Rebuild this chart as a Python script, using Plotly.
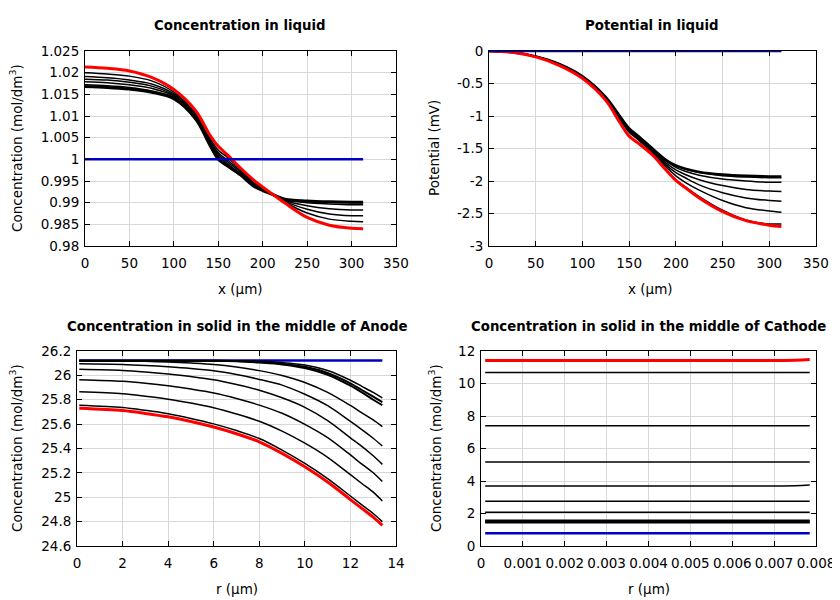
import plotly.graph_objects as go

# ---------------- data ----------------
# Concentration in liquid (top-left)
X_LIQ = [0, 25, 50, 75, 100, 125, 140, 150, 160, 175, 190, 200, 210, 225, 250, 275, 300, 313]
LIQ_INIT = [1.0, 1.0, 1.0, 1.0, 1.0, 1.0, 1.0, 1.0, 1.0, 1.0, 1.0, 1.0, 1.0, 1.0, 1.0, 1.0, 1.0, 1.0]
LIQ_C0 = [1.0168, 1.0166, 1.0162, 1.0155, 1.0140, 1.0092, 1.0035, 1.0000, 0.9985, 0.9964, 0.9938, 0.9928, 0.9920, 0.9908, 0.9904, 0.9902, 0.9901, 0.9901]
LIQ_C1 = [1.0172, 1.0170, 1.0166, 1.0158, 1.0143, 1.0094, 1.0037, 1.0003, 0.9987, 0.9964, 0.9938, 0.9928, 0.9920, 0.9908, 0.9903, 0.9901, 0.9900, 0.9900]
LIQ_C2 = [1.0179, 1.0177, 1.0172, 1.0164, 1.0146, 1.0097, 1.0041, 1.0007, 0.9991, 0.9966, 0.9940, 0.9929, 0.9920, 0.9907, 0.9900, 0.9897, 0.9895, 0.9895]
LIQ_C3 = [1.0185, 1.0183, 1.0178, 1.0169, 1.0148, 1.0099, 1.0044, 1.0011, 0.9995, 0.9970, 0.9942, 0.9930, 0.9920, 0.9905, 0.9893, 0.9886, 0.9883, 0.9883]
LIQ_C4 = [1.0191, 1.0188, 1.0183, 1.0174, 1.0151, 1.0102, 1.0047, 1.0015, 0.9999, 0.9973, 0.9945, 0.9932, 0.9920, 0.9903, 0.9885, 0.9874, 0.9870, 0.9870]
LIQ_C5 = [1.0200, 1.0197, 1.0192, 1.0181, 1.0155, 1.0105, 1.0051, 1.0021, 1.0005, 0.9977, 0.9948, 0.9934, 0.9920, 0.9901, 0.9876, 0.9862, 0.9857, 0.9856]
LIQ_FINAL = [1.0213, 1.0210, 1.0204, 1.0189, 1.0161, 1.0111, 1.0058, 1.0030, 1.0011, 0.9980, 0.9952, 0.9936, 0.9921, 0.9899, 0.9866, 0.9848, 0.9841, 0.9840]

# Potential in liquid (top-right)
POT_INIT = [0.0] * 18
POT_P0 = [0, -0.02, -0.085, -0.20, -0.39, -0.71, -1.00, -1.19, -1.31, -1.50, -1.68, -1.76, -1.81, -1.86, -1.90, -1.92, -1.93, -1.93]
POT_P1 = [0, -0.02, -0.085, -0.20, -0.39, -0.71, -1.00, -1.19, -1.31, -1.50, -1.685, -1.77, -1.82, -1.87, -1.92, -1.94, -1.95, -1.95]
POT_P2 = [0, -0.02, -0.085, -0.20, -0.39, -0.71, -1.006, -1.197, -1.315, -1.51, -1.70, -1.79, -1.85, -1.91, -1.97, -2.00, -2.02, -2.02]
POT_P3 = [0, -0.02, -0.085, -0.20, -0.395, -0.72, -1.015, -1.21, -1.33, -1.52, -1.73, -1.83, -1.90, -1.98, -2.07, -2.13, -2.155, -2.16]
POT_P4 = [0, -0.02, -0.086, -0.205, -0.40, -0.72, -1.025, -1.22, -1.34, -1.53, -1.76, -1.87, -1.95, -2.06, -2.18, -2.26, -2.30, -2.31]
POT_P5 = [0, -0.02, -0.087, -0.207, -0.40, -0.73, -1.035, -1.23, -1.35, -1.54, -1.79, -1.92, -2.02, -2.14, -2.30, -2.41, -2.46, -2.48]
POT_P6 = [0, -0.02, -0.088, -0.21, -0.405, -0.735, -1.05, -1.25, -1.37, -1.57, -1.83, -1.98, -2.09, -2.24, -2.45, -2.60, -2.66, -2.66]
POT_FINAL = [0, -0.02, -0.09, -0.22, -0.42, -0.76, -1.10, -1.31, -1.42, -1.60, -1.84, -1.99, -2.10, -2.26, -2.47, -2.61, -2.68, -2.70]

# Concentration in solid, anode (bottom-left)
R_AN = [0.1, 2, 3, 4, 5, 6, 7, 8, 9, 10, 11, 12, 12.5, 13, 13.4]
AN_INIT = [26.123] * 15
AN_A1 = [26.12, 26.12, 26.12, 26.12, 26.12, 26.12, 26.119, 26.115, 26.105, 26.085, 26.04, 25.96, 25.91, 25.86, 25.815]
AN_A2 = [26.12, 26.12, 26.12, 26.12, 26.12, 26.12, 26.118, 26.11, 26.095, 26.07, 26.02, 25.935, 25.88, 25.825, 25.78]
AN_A3 = [26.12, 26.12, 26.12, 26.12, 26.12, 26.12, 26.116, 26.105, 26.09, 26.06, 26.005, 25.915, 25.86, 25.80, 25.755]
AN_L2 = [26.12, 26.118, 26.115, 26.109, 26.101, 26.09, 26.069, 26.039, 25.999, 25.942, 25.861, 25.753, 25.693, 25.634, 25.58]
AN_L3 = [26.095, 26.090, 26.082, 26.071, 26.057, 26.038, 26.007, 25.967, 25.920, 25.845, 25.751, 25.622, 25.555, 25.484, 25.42]
AN_L4 = [26.05, 26.041, 26.028, 26.011, 25.990, 25.964, 25.925, 25.878, 25.816, 25.738, 25.629, 25.488, 25.418, 25.340, 25.27]
AN_L5 = [25.965, 25.952, 25.936, 25.915, 25.888, 25.856, 25.811, 25.756, 25.689, 25.598, 25.489, 25.347, 25.272, 25.201, 25.13]
AN_L6 = [25.865, 25.849, 25.829, 25.805, 25.773, 25.735, 25.683, 25.623, 25.543, 25.444, 25.328, 25.185, 25.113, 25.042, 24.97]
AN_L7 = [25.755, 25.736, 25.713, 25.685, 25.647, 25.602, 25.547, 25.482, 25.387, 25.278, 25.153, 25.010, 24.938, 24.867, 24.80]
AN_FINAL = [25.73, 25.711, 25.688, 25.660, 25.622, 25.576, 25.521, 25.455, 25.360, 25.25, 25.125, 24.981, 24.909, 24.837, 24.77]

# Concentration in solid, cathode (bottom-right)
R_CA = [0.0001, 0.002, 0.004, 0.006, 0.0075, 0.00785]
CA_INIT = [0.78, 0.78, 0.78, 0.78, 0.78, 0.78]
CA_K = [
    [1.43, 1.43, 1.43, 1.43, 1.43, 1.43],
    [1.48, 1.48, 1.48, 1.48, 1.48, 1.48],
    [1.53, 1.53, 1.53, 1.53, 1.53, 1.53],
    [1.58, 1.58, 1.58, 1.58, 1.58, 1.58],
    [2.08, 2.08, 2.08, 2.08, 2.08, 2.08],
    [2.76, 2.76, 2.76, 2.76, 2.76, 2.76],
    [3.70, 3.70, 3.70, 3.70, 3.71, 3.75],
    [5.17, 5.17, 5.17, 5.17, 5.17, 5.17],
    [7.40, 7.40, 7.40, 7.40, 7.40, 7.40],
    [10.68, 10.68, 10.68, 10.68, 10.68, 10.68],
]
CA_FINAL = [11.42, 11.42, 11.42, 11.42, 11.43, 11.48]

# Tick labels
TL_YT = [0.98, 0.985, 0.99, 0.995, 1.0, 1.005, 1.01, 1.015, 1.02, 1.025]
TL_YL = ["0.98", "0.985", "0.99", "0.995", "1", "1.005", "1.01", "1.015", "1.02", "1.025"]
TR_YT = [-3, -2.5, -2, -1.5, -1, -0.5, 0]
TR_YL = ["-3", "-2.5", "-2", "-1.5", "-1", "-0.5", "0"]
LIQ_XT = [0, 50, 100, 150, 200, 250, 300, 350]
BL_XT = [0, 2, 4, 6, 8, 10, 12, 14]
BL_YT = [24.6, 24.8, 25, 25.2, 25.4, 25.6, 25.8, 26, 26.2]
BL_YL = ["24.6", "24.8", "25", "25.2", "25.4", "25.6", "25.8", "26", "26.2"]
BR_XT = [0, 0.001, 0.002, 0.003, 0.004, 0.005, 0.006, 0.007, 0.008]
BR_XL = ["0", "0.001", "0.002", "0.003", "0.004", "0.005", "0.006", "0.007", "0.008"]
BR_YT = [0, 2, 4, 6, 8, 10, 12]

TITLES = ["Concentration in liquid", "Potential in liquid",
          "Concentration in solid in the middle of Anode",
          "Concentration in solid in the middle of Cathode"]

# ---------------- figure ----------------
# The page body has an 8 px margin, so the figure is 832x592 and every
# screen position below is given in window pixels and shifted by OFF.
OFF = 8
W, H = 840 - OFF, 600 - OFF
BLACK, RED, BLUE = "#000000", "#ff0000", "#0000c0"
fig = go.Figure()

def line(x, y, color, width, xa, ya):
    fig.add_trace(go.Scatter(x=x, y=y, mode="lines", xaxis=xa, yaxis=ya,
                             line=dict(color=color, width=width, shape="spline", smoothing=0.9),
                             showlegend=False, hoverinfo="skip"))

# top-left
for ys, w in [(LIQ_C0, 3), (LIQ_C1, 1.5), (LIQ_C2, 1.5), (LIQ_C3, 1.5), (LIQ_C4, 1.5), (LIQ_C5, 1.5)]:
    line(X_LIQ, ys, BLACK, w, "x", "y")
line(X_LIQ, LIQ_FINAL, RED, 3, "x", "y")
line(X_LIQ, LIQ_INIT, BLUE, 2.5, "x", "y")

# top-right
for ys, w in [(POT_P0, 2.5), (POT_P1, 1.5), (POT_P2, 1.5), (POT_P3, 1.5), (POT_P4, 1.5), (POT_P5, 1.5), (POT_P6, 1.5)]:
    line(X_LIQ, ys, BLACK, w, "x2", "y2")
line(X_LIQ, POT_FINAL, RED, 3, "x2", "y2")
line(X_LIQ, POT_INIT, BLUE, 2.5, "x2", "y2")

# bottom-left
line(R_AN, AN_INIT, BLUE, 2.5, "x3", "y3")
for ys, w in [(AN_A1, 1.5), (AN_A2, 2), (AN_A3, 2), (AN_L2, 1.5), (AN_L3, 1.5), (AN_L4, 1.5),
              (AN_L5, 1.5), (AN_L6, 1.5), (AN_L7, 1.5)]:
    line(R_AN, ys, BLACK, w, "x3", "y3")
line(R_AN, AN_FINAL, RED, 3, "x3", "y3")

# bottom-right
for ys in CA_K:
    line(R_CA, ys, BLACK, 1.5, "x4", "y4")
line(R_CA, CA_FINAL, RED, 3, "x4", "y4")
line(R_CA, CA_INIT, BLUE, 2.5, "x4", "y4")

FONT = "DejaVu Sans"
TICKFONT = dict(family=FONT, size=13.5, color="black")

def ax(domain_px, rng, tickvals, ticktext=None, vertical=False, anchor=None):
    if vertical:
        d = [1 - (domain_px[1] - OFF) / H, 1 - (domain_px[0] - OFF) / H]
        standoff = 2
    else:
        d = [(domain_px[0] - OFF) / W, (domain_px[1] - OFF) / W]
        standoff = 5
    a = dict(domain=d, range=rng, tickmode="array", tickvals=tickvals,
             ticks="inside", ticklen=5, tickwidth=1, tickcolor="black",
             showline=True, linecolor="black", linewidth=1, mirror="ticks",
             showgrid=True, gridcolor="#d8d8d8", gridwidth=1, zeroline=False,
             tickfont=TICKFONT, anchor=anchor, fixedrange=True, automargin=False,
             ticklabelstandoff=standoff)
    if ticktext is not None:
        a["ticktext"] = ticktext
    return a

PX = {"TL": (85, 396, 51, 246), "TR": (489, 816, 51, 246),
      "BL": (77, 396, 351, 546), "BR": (481, 816, 351, 546)}

fig.update_layout(
    width=W, height=H, margin=dict(l=0, r=0, t=0, b=0, autoexpand=False),
    plot_bgcolor="white", paper_bgcolor="white",
    xaxis=ax(PX["TL"][:2], [0, 350], LIQ_XT, anchor="y"),
    yaxis=ax(PX["TL"][2:], [0.98, 1.025], TL_YT, TL_YL, vertical=True, anchor="x"),
    xaxis2=ax(PX["TR"][:2], [0, 350], LIQ_XT, anchor="y2"),
    yaxis2=ax(PX["TR"][2:], [-3, 0], TR_YT, TR_YL, vertical=True, anchor="x2"),
    xaxis3=ax(PX["BL"][:2], [0, 14], BL_XT, anchor="y3"),
    yaxis3=ax(PX["BL"][2:], [24.6, 26.2], BL_YT, BL_YL, vertical=True, anchor="x3"),
    xaxis4=ax(PX["BR"][:2], [0, 0.008], BR_XT, BR_XL, anchor="y4"),
    yaxis4=ax(PX["BR"][2:], [0, 12], BR_YT, vertical=True, anchor="x4"),
)

annots = []
def text(x, y, s, size=13, bold=False, angle=0):
    annots.append(dict(x=(x - OFF) / W, y=1 - (y - OFF) / H, xref="paper", yref="paper",
                       text=f"<b>{s}</b>" if bold else s,
                       showarrow=False, textangle=angle, xanchor="center", yanchor="middle",
                       font=dict(family=FONT, size=size, color="black")))

text(240, 26, TITLES[0], 13.3, True)
text(652, 26, TITLES[1], 13.3, True)
text(237, 326, TITLES[2], 13.3, True)
text(648, 326, TITLES[3], 13.3, True)

ylab = "Concentration (mol/dm<sup>3</sup>)"
text(16, 148, ylab, 13.5, angle=-90)
text(434, 148, "Potential (mV)", 13.5, angle=-90)
text(16, 448, ylab, 13.5, angle=-90)
text(435, 448, ylab, 13.5, angle=-90)
text(240, 289, "x (µm)", 13.5)
text(650, 289, "x (µm)", 13.5)
text(237, 589, "r (µm)", 13.5)
text(649, 589, "r (µm)", 13.5)
fig.update_layout(annotations=annots)

fig.write_html("out.html")
